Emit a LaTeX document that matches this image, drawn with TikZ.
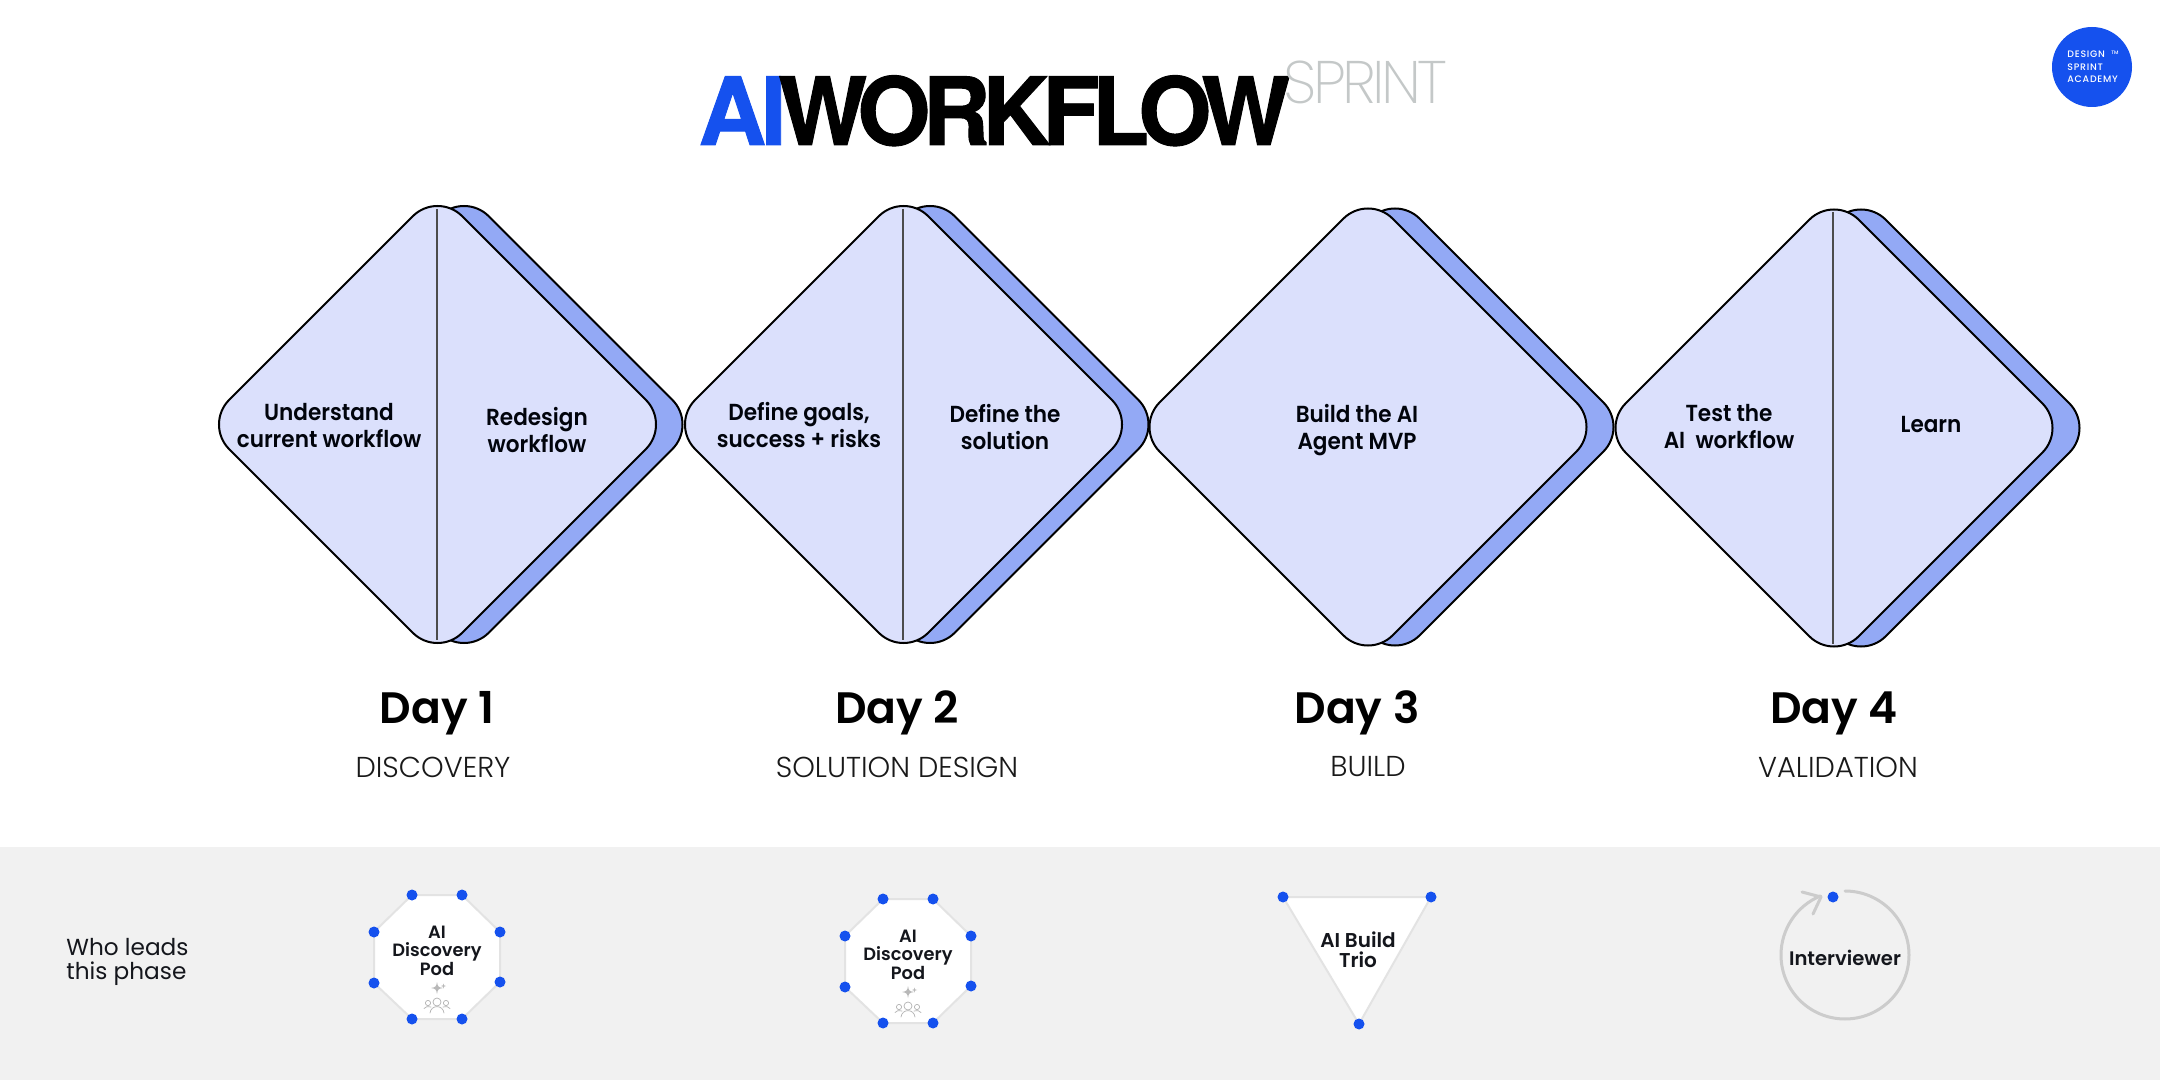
\documentclass[tikz,border=0pt]{standalone}
\usepackage{fontspec}
\setmainfont{Poppins}
\newfontfamily\titlefont{TeX Gyre Heros}
\newfontfamily\thinfont{Poppins ExtraLight}
\newfontfamily\lightfont{Poppins Light}
\newfontfamily\medfont{Poppins Medium}
\newfontfamily\semifont{Poppins SemiBold}
\newfontfamily\stagefont[FakeStretch=0.93]{Poppins SemiBold}
\definecolor{dsblue}{HTML}{1551EE}
\definecolor{dsfront}{HTML}{DBE0FC}
\definecolor{dsback}{HTML}{93A9F5}
\definecolor{dsband}{HTML}{F1F1F1}
\definecolor{dsedge}{HTML}{E3E3E3}
\definecolor{dsring}{HTML}{CCCCCC}
\definecolor{dsink}{HTML}{14161C}
\definecolor{dsthin}{HTML}{C4C8C8}
\tikzset{
  x=0.5pt,y=-0.5pt,
  frontd/.style={draw=black,line width=1pt,fill=dsfront,rounded corners=17.5pt},
  backd/.style={draw=black,line width=1pt,fill=dsback,rounded corners=17.5pt},
  divider/.style={draw=black!70,line width=0.6pt},
  stage/.style={align=center,inner sep=0pt,font=\stagefont\fontsize{11.6}{13.5}\selectfont,text=black!95!dsblue},
  daylabel/.style={inner sep=0pt,font=\semifont\fontsize{22}{24}\selectfont,text=black},
  phaselabel/.style={inner sep=0pt,font=\lightfont\fontsize{14.4}{16}\selectfont,text=black!90},
  team/.style={align=center,inner sep=0pt,text=dsink,font=\semifont\fontsize{8.9}{9.3}\selectfont},
  dsdot/.style={circle,fill=dsblue,inner sep=0pt,minimum size=5.5pt},
  teamedge/.style={draw=dsedge,fill=white,line width=1pt},
  icon/.style={draw=black!30,line width=0.35pt,line cap=round}
}
\newcommand{\dsshape}[3]{% cx, cy, style
  \begin{scope}[shift={(#1,#2)}]
    \path[#3] (-116.5,-116.5) -- (0,-233) -- (233,0) -- (0,233) -- (-233,0) -- cycle;
  \end{scope}
}
\newcommand{\dspod}[2]{% offset
  \begin{scope}[shift={(#1,#2)}]
    \coordinate (a) at (412,895);\coordinate (b) at (462,895);\coordinate (c) at (500,932);\coordinate (d) at (500,982);
    \coordinate (e) at (462,1019);\coordinate (f) at (412,1019);\coordinate (g) at (374,983);\coordinate (h) at (374,932);
    \path[teamedge] (a)--(b)--(c)--(d)--(e)--(f)--(g)--(h)--cycle;
    \foreach \p in {a,b,c,d,e,f,g,h} \node[dsdot] at (\p) {};
    \node[team] at (437,950.5) {AI\\Discovery\\Pod};
    % sparkle
    \path[fill=black!28] (437,982) .. controls (437.6,986.5) and (438.5,987.4) .. (443,988) .. controls (438.5,988.6) and (437.6,989.5) .. (437,994) .. controls (436.4,989.5) and (435.5,988.6) .. (431,988) .. controls (435.5,987.4) and (436.4,986.5) .. (437,982) -- cycle;
    \path[fill=black!28] (443.5,983.5) -- (444.1,985.4) -- (446,986) -- (444.1,986.6) -- (443.5,988.5) -- (442.9,986.6) -- (441,986) -- (442.9,985.4) -- cycle;
    % people
    \draw[icon] (437,1002) circle (4);
    \draw[icon] (428,1003) circle (2.6);
    \draw[icon] (446,1003) circle (2.6);
    \draw[icon] (430,1013) .. controls (431,1004.5) and (443,1004.5) .. (444,1013);
    \draw[icon] (424,1008.5) .. controls (425.5,1006.5) and (428,1006) .. (431,1007);
    \draw[icon] (450,1008.5) .. controls (448.5,1006.5) and (446,1006) .. (443,1007);
  \end{scope}
}
\begin{document}
\begin{tikzpicture}
\useasboundingbox (0,0) rectangle (2160,1080);
\fill[white] (0,0) rectangle (2160,1080);
\fill[dsband] (0,847) rectangle (2160,1080);
% title
\node[anchor=base west,inner sep=0pt,text=dsblue] (titleai) at (698,145) {\titlefont\bfseries\fontsize{47}{47}\selectfont\addfontfeature{LetterSpace=-6,FakeBold=1}AI};
\node[anchor=base west,inner sep=0pt,text=black] (titlewf) at (778,145) {\titlefont\bfseries\fontsize{47}{47}\selectfont\addfontfeature{LetterSpace=-8.5,FakeBold=1}WORKFLOW};
\node[anchor=base west,inner sep=0pt,text=dsthin] (titlesp) at (1283,104) {\thinfont\fontsize{30}{30}\selectfont\addfontfeature{LetterSpace=-6}SPRINT};
% logo
\node[circle,fill=dsblue,inner sep=0pt,minimum size=40pt] (logo) at (2092,67) {};
\node[anchor=west,inner sep=0pt,align=left,text=white,font=\medfont\fontsize{4.7}{6.2}\selectfont\addfontfeature{LetterSpace=8}] (logotext) at (2067,67) {DESIGN\\SPRINT\\ACADEMY};
\node[inner sep=0pt,text=white,font=\medfont\fontsize{2.5}{3}\selectfont] (logotm) at (2115,53) {TM};
% diamonds
\dsshape{464}{424.5}{backd}
\dsshape{437.5}{424.5}{frontd}
\draw[divider] (437,209) -- (437,640);
\dsshape{930}{424.5}{backd}
\dsshape{903.5}{424.5}{frontd}
\draw[divider] (903,209) -- (903,640);
\dsshape{1395}{427}{backd}
\dsshape{1368}{427}{frontd}
\dsshape{1861}{428}{backd}
\dsshape{1834}{428}{frontd}
\draw[divider] (1833,212) -- (1833,644);
% stage labels
\node[stage] (s1a) at (329,426) {Understand\\current workflow};
\node[stage] (s1b) at (537,430) {Redesign\\workflow};
\node[stage] (s2a) at (799,425) {Define goals,\\success + risks};
\node[stage] (s2b) at (1005,427) {Define the\\solution};
\node[stage] (s3) at (1357,430) {Build the AI\\Agent MVP};
\node[stage] (s4a) at (1729,427) {Test the\\AI\ \ workflow};
\node[stage] (s4b) at (1931,425) {Learn};
% day labels
\node[daylabel] (d1) at (437,713) {Day 1};
\node[daylabel] (d2) at (897,713) {Day 2};
\node[daylabel] (d3) at (1357,713) {Day 3};
\node[daylabel] (d4) at (1834,713) {Day 4};
\node[phaselabel] (p1) at (433,767) {DISCOVERY};
\node[phaselabel] (p2) at (897,767) {SOLUTION DESIGN};
\node[phaselabel] (p3) at (1368,767) {BUILD};
\node[phaselabel] (p4) at (1838,767) {VALIDATION};
% who leads
\node[anchor=west,align=left,inner sep=0pt,text=dsink,font=\fontsize{11.6}{12.3}\selectfont] (who) at (66,962) {Who leads\\this phase};
% pods
\dspod{0}{0}
\dspod{471}{4}
% trio
\coordinate (t1) at (1283,897);\coordinate (t2) at (1431,897);\coordinate (t3) at (1359,1024);
\path[teamedge] (t1)--(t2)--(t3)--cycle;
\node[dsdot] at (t1) {};\node[dsdot] at (t2) {};\node[dsdot] at (t3) {};
\node[team,font=\semifont\fontsize{10}{10}\selectfont] (trio) at (1358,950) {AI Build\\Trio};
% interviewer
\draw[dsring,line width=1.5pt,line cap=round] (1845,891) arc[start angle=-90,end angle=247.5,radius=64];
\draw[dsring,line width=1.5pt,line cap=round,line join=round] (1802,892) -- (1821,897) -- (1813,914);
\node[dsdot] (idot) at (1833,897) {};
\node[team,font=\semifont\fontsize{9.8}{10}\selectfont] (interviewer) at (1845,958) {Interviewer};
\end{tikzpicture}
\end{document}
